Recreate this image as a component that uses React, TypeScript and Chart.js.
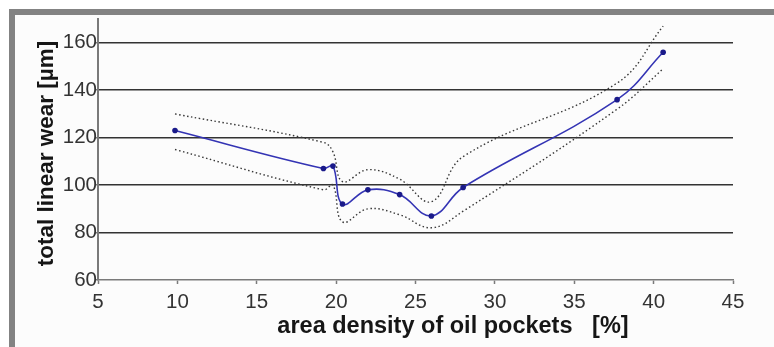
import React, { useEffect, useRef } from "react";
import { Chart, registerables } from "chart.js";

Chart.register(...registerables);

// Area density of oil pockets [%] at each measured specimen
const densityPct = [9.85, 19.2, 19.8, 20.4, 22.0, 24.0, 26.0, 28.0, 37.7, 40.6];
// Mean total linear wear [µm]
const wearMean = [123, 107, 108, 92, 98, 96, 87, 99, 136, 156];
// Upper and lower limits of the scatter band [µm]
const wearUpper = [130, 118, 114, 101.5, 106.5, 102.5, 93, 112, 143, 167];
const wearLower = [115, 98, 100, 84.5, 90, 87.5, 82, 89, 132, 149];

// Axis ranges and steps
const xRange = [5, 45];
const xStep = 5;
const yRange = [60, 170];
const yStep = 20;

const xTitle = "area density of oil pockets   [%]";
const yTitle = "total linear wear [µm]";

const FONT = "'Liberation Sans', Arial, Helvetica, sans-serif";

const toPoints = (ys: number[]) => densityPct.map((x, i) => ({ x, y: ys[i] }));

// Axis titles, drawn on the canvas with their own placement
const axisTitles = {
  id: "axisTitles",
  afterDraw(chart: any) {
    const { ctx } = chart;
    ctx.save();
    ctx.fillStyle = "#161616";
    ctx.textAlign = "center";
    ctx.textBaseline = "middle";

    ctx.font = `bold 23.5px ${FONT}`;
    ctx.fillText(xTitle, 453, 327);

    ctx.translate(47, 153.5);
    ctx.rotate(-Math.PI / 2);
    ctx.font = `bold 22.5px ${FONT}`;
    ctx.fillText(yTitle, 0, 0);
    ctx.restore();
  },
};

export default function App() {
  const canvasRef = useRef<HTMLCanvasElement | null>(null);

  useEffect(() => {
    const canvas = canvasRef.current;
    if (!canvas) return;

    const bandStyle = {
      borderColor: "#383838",
      borderWidth: 1.4,
      borderDash: [1.5, 2.5],
      pointRadius: 0,
      tension: 0.4,
      fill: false,
    };

    const chart = new Chart(canvas, {
      type: "line",
      data: {
        datasets: [
          {
            label: "upper",
            data: toPoints(wearUpper),
            ...bandStyle,
          },
          {
            label: "lower",
            data: toPoints(wearLower),
            ...bandStyle,
          },
          {
            label: "total linear wear",
            data: toPoints(wearMean),
            borderColor: "#3434b4",
            borderWidth: 1.6,
            pointRadius: 2.8,
            pointBackgroundColor: "#1a1a8a",
            pointBorderColor: "#1a1a8a",
            pointBorderWidth: 0,
            tension: 0.4,
            fill: false,
          },
        ],
      },
      options: {
        animation: false,
        responsive: false,
        devicePixelRatio: 1,
        layout: { padding: { top: 19, right: 41, left: 0, bottom: 0 } },
        plugins: {
          legend: { display: false },
          tooltip: { enabled: false },
        },
        scales: {
          x: {
            type: "linear",
            position: "bottom",
            min: xRange[0],
            max: xRange[1],
            ticks: {
              stepSize: xStep,
              font: { family: FONT, size: 20.5 },
              color: "#333",
              padding: 6,
              maxRotation: 0,
            },
            grid: {
              drawOnChartArea: false,
              drawTicks: true,
              tickLength: 4,
              tickColor: "#7a7a7a",
              tickWidth: 1.5,
            },
            border: { display: true, color: "#7a7a7a", width: 1.6 },
            afterFit: (s: any) => {
              s.height = 67;
            },
          },
          y: {
            type: "linear",
            min: yRange[0],
            max: yRange[1],
            ticks: {
              stepSize: yStep,
              font: { family: FONT, size: 20.5 },
              color: "#333",
              padding: -2,
            },
            afterBuildTicks: (s: any) => {
              s.ticks = s.ticks.filter((t: any) => t.value % yStep === 0);
            },
            grid: {
              color: (ctx: any) =>
                ctx.tick && ctx.tick.value === yRange[0] ? "rgba(0,0,0,0)" : "#333",
              lineWidth: 1.6,
              drawTicks: true,
              tickLength: 3,
              tickColor: "#7a7a7a",
              tickWidth: 1.5,
            },
            border: { display: true, color: "#7a7a7a", width: 2 },
            afterFit: (s: any) => {
              s.width = 98;
            },
          },
        },
      },
      plugins: [axisTitles],
    });

    return () => chart.destroy();
  }, []);

  return (
    <div
      style={{
        position: "fixed",
        left: 0,
        top: 0,
        width: 774,
        height: 347,
        background: "#ffffff",
        overflow: "hidden",
      }}
    >
      <div
        style={{
          position: "absolute",
          left: 9,
          top: 9,
          right: 0,
          bottom: 0,
          borderTop: "6px solid #838383",
          borderLeft: "6px solid #838383",
          background: "#fcfcfc",
        }}
      />
      <canvas
        ref={canvasRef}
        width={774}
        height={347}
        style={{ position: "absolute", left: 0, top: 0, width: 774, height: 347 }}
      />
    </div>
  );
}
